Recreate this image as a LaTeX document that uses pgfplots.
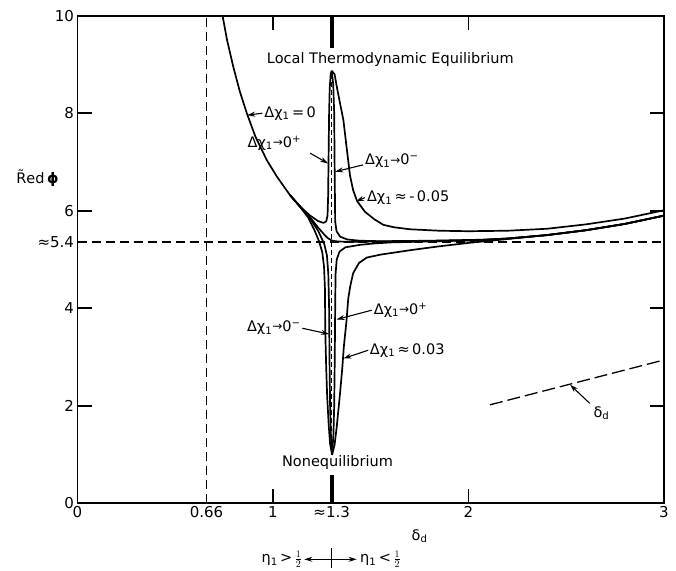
\documentclass[border=0pt]{standalone}
\usepackage{fontspec}
\setmainfont{DejaVu Sans}
\usepackage{pgfplots}
\pgfplotsset{compat=1.18}
\usetikzlibrary{arrows.meta}
\newcommand\dc{Δχ\textsubscript{1}}
\newcommand\sar{\raisebox{0.1ex}{\fontsize{12bp}{12bp}\selectfont →}}
\tikzset{
  curve/.style={black, line width=1.7pt, line join=round, mark=none},
  ann/.style={-{Stealth[length=8bp,width=5bp]}, line width=1.1pt},
}
\begin{document}
\begin{tikzpicture}[font=\fontsize{14.5bp}{17bp}\selectfont]
\begin{axis}[
  scale only axis, width=586.5bp, height=487.6bp,
  xmin=0, xmax=3, ymin=0, ymax=10,
  clip=false,
  axis line style={line width=1.9pt},
  tick style={line width=1.6pt, black},
  major tick length=14bp,
  xtick={0,1,2,3}, xticklabels={0,1,2,3},
  ytick={0,2,4,6,8,10}, yticklabels={0,2,4,6,8,10},
  extra x ticks={0.66,1.3}, extra x tick labels={0.66,≈1.3},
  extra y ticks={5.36}, extra y tick labels={≈5.4},
  extra x tick style={major tick length=0pt},
  extra y tick style={major tick length=0pt},
  tick label style={font=\fontsize{15bp}{17bp}\selectfont},
]
% dashed reference lines
\addplot[black, line width=1.3pt, dash pattern=on 9bp off 5bp] coordinates {(0.66,0) (0.66,10)};
\addplot[black, line width=1.3pt, dash pattern=on 9bp off 5bp] coordinates {(0,5.36) (3,5.36)};
\addplot[black, line width=0.9pt, dash pattern=on 5bp off 3bp] coordinates {(1.3,1.0) (1.3,8.87)};
% thick vertical line at 1.3
\addplot[black, line width=4pt] coordinates {(1.3,0) (1.3,0.58)};
\addplot[black, line width=4pt] coordinates {(1.3,9.33) (1.3,10)};
% delta_d dashed line
\addplot[black, line width=1.3pt, dash pattern=on 13bp off 5bp] coordinates {(2.11,2.02) (3.0,2.94)};

% upper-left family
\addplot[curve] coordinates {(0.742,10) (0.765,9.5) (0.797,8.95) (0.83,8.45) (0.866,8.0) (0.91,7.52) (0.968,7.04) (1.02,6.70) (1.087,6.32) (1.14,6.08)
  (1.19,5.90) (1.23,5.79) (1.258,5.75) (1.272,5.78) (1.279,5.9) (1.282,6.3) (1.284,7.0) (1.287,8.0) (1.29,8.5) (1.295,8.8) (1.30,8.87)};
\addplot[curve] coordinates {(1.087,6.32) (1.14,6.08)
  (1.19,5.86) (1.23,5.66) (1.26,5.52) (1.28,5.44) (1.30,5.39) (1.33,5.37) (1.40,5.36) (1.55,5.37) (1.8,5.38) (2.06,5.40) (2.2,5.43) (2.4,5.50) (2.6,5.60) (2.8,5.73) (3,5.90)};
\addplot[curve] coordinates {(1.087,6.32) (1.14,6.08)
  (1.19,5.84) (1.232,5.58) (1.262,5.32) (1.276,5.08) (1.283,4.7) (1.287,4.0) (1.289,3.0) (1.292,2.0) (1.296,1.4) (1.302,1.02)};
\addplot[curve] coordinates {(1.087,6.32) (1.14,6.07)
  (1.18,5.86) (1.21,5.62) (1.235,5.38) (1.252,5.15) (1.261,4.85) (1.266,4.37) (1.267,3.6) (1.272,2.8) (1.277,2.2) (1.285,1.6) (1.292,1.22) (1.302,1.0)};
% right family
\addplot[curve] coordinates {(1.30,8.87) (1.308,8.6) (1.313,8.0) (1.315,7.0) (1.317,6.2) (1.318,5.78) (1.325,5.58) (1.343,5.47) (1.38,5.41) (1.445,5.385) (1.55,5.375) (1.8,5.385) (2.06,5.405) (2.2,5.43) (2.4,5.50) (2.6,5.60) (2.8,5.73) (3,5.90)};
\addplot[curve] coordinates {(1.30,8.87) (1.315,8.8) (1.326,8.55) (1.343,8.2) (1.36,7.86) (1.378,7.25) (1.394,6.72) (1.41,6.42) (1.43,6.20) (1.47,5.98) (1.52,5.82) (1.565,5.71) (1.62,5.66) (1.7,5.62) (1.85,5.59) (2.0,5.58) (2.2,5.59) (2.4,5.63) (2.6,5.72) (2.8,5.84) (3,6.01)};
\addplot[curve] coordinates {(1.302,1.0) (1.309,1.4) (1.313,2.0) (1.316,3.0) (1.318,4.0) (1.32,4.7) (1.326,5.0) (1.34,5.16) (1.37,5.25) (1.445,5.30) (1.52,5.33) (1.6,5.35) (1.8,5.37) (2.06,5.395) (2.2,5.43) (2.4,5.50) (2.6,5.60) (2.8,5.73) (3,5.90)};
\addplot[curve] coordinates {(1.302,0.99) (1.315,1.2) (1.326,1.57) (1.343,2.26) (1.355,2.8) (1.362,3.2) (1.375,3.7) (1.385,4.2) (1.395,4.45) (1.41,4.72) (1.44,4.93) (1.48,5.04) (1.55,5.10) (1.7,5.19) (1.85,5.27) (2.0,5.34) (2.2,5.42) (2.4,5.50) (2.6,5.60) (2.8,5.73) (3,5.90)};

% labels
\node at (axis cs:1.6,9.1) {Local Thermodynamic Equilibrium};
\node at (axis cs:1.33,0.83) {Nonequilibrium};

\node[anchor=west, inner sep=1bp] at (axis cs:0.95,8.0) {\dc\,=\,0};
\draw[ann] (axis cs:0.945,8.0) -- (axis cs:0.868,7.96);

\node[anchor=east, inner sep=1bp] at (axis cs:1.15,7.39) {\dc\sar0\textsuperscript{+}};
\draw[ann] (axis cs:1.19,7.18) -- (axis cs:1.282,6.97);

\node[anchor=west, inner sep=1bp] at (axis cs:1.465,7.02) {\dc\sar0\textsuperscript{−}};
\draw[ann] (axis cs:1.46,6.94) -- (axis cs:1.318,6.80);

\node[anchor=west, inner sep=1bp] at (axis cs:1.475,6.26) {\dc\,≈\,-\,0.05};
\draw[ann] (axis cs:1.47,6.27) -- (axis cs:1.425,6.19);

\node[anchor=east, inner sep=1bp] at (axis cs:1.147,3.6) {\dc\sar0\textsuperscript{−}};
\draw[ann] (axis cs:1.15,3.59) -- (axis cs:1.287,3.47);

\node[anchor=west, inner sep=1bp] at (axis cs:1.51,3.96) {\dc\sar0\textsuperscript{+}};
\draw[ann] (axis cs:1.505,3.96) -- (axis cs:1.325,3.77);

\node[anchor=west, inner sep=1bp] at (axis cs:1.49,3.14) {\dc\,≈\,0.03};
\draw[ann] (axis cs:1.487,3.14) -- (axis cs:1.36,2.97);

\node at (axis cs:2.68,1.85) {δ\textsubscript{d}};
\draw[ann] (axis cs:2.62,2.05) -- (axis cs:2.52,2.43);

% axis labels
\node at ([yshift=-33bp]axis cs:1.75,0) {δ\textsubscript{d}};
\node at ([xshift=-40bp]axis cs:0,6.67) {\~{R}ed\,{\bfseries ϕ}};

% eta annotation
\draw[line width=1.1pt] ([yshift=-45bp]axis cs:1.3,0) -- ([yshift=-65bp]axis cs:1.3,0);
\draw[ann] ([yshift=-56bp]axis cs:1.3,0) -- ([yshift=-56bp]axis cs:1.16,0);
\draw[ann] ([yshift=-56bp]axis cs:1.3,0) -- ([yshift=-56bp]axis cs:1.428,0);
\node[anchor=east, inner sep=1bp] at ([yshift=-56bp]axis cs:1.155,0) {η\textsubscript{1}\,>\,$\frac{1}{2}$};
\node[anchor=west, inner sep=1bp] at ([yshift=-56bp]axis cs:1.44,0) {η\textsubscript{1}\,<\,$\frac{1}{2}$};
\end{axis}
\pgfresetboundingbox
\path[use as bounding box] (-77.5bp,-67.7bp) rectangle (598.5bp,503.3bp);
\end{tikzpicture}
\end{document}
